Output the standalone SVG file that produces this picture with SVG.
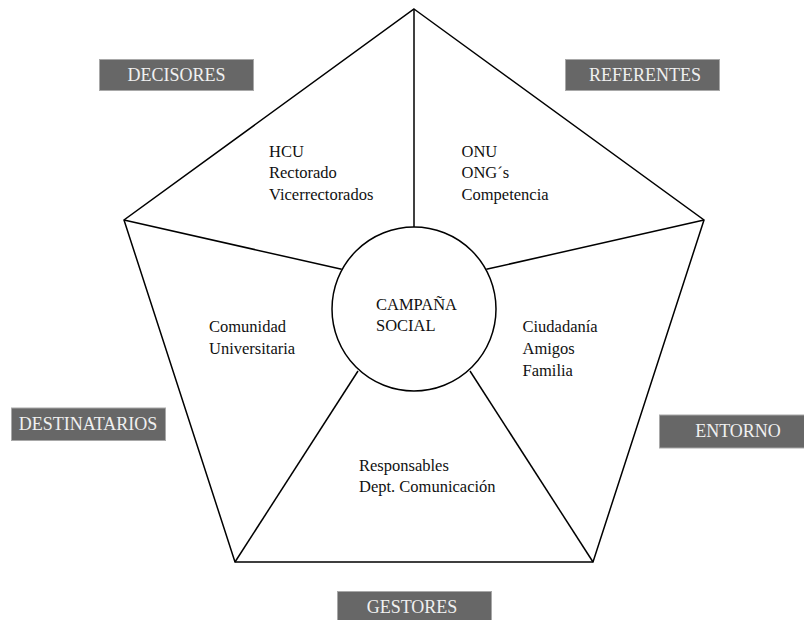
<svg xmlns="http://www.w3.org/2000/svg" width="804" height="620" viewBox="0 0 804 620">
<style>
.ln{fill:none;stroke:#000;stroke-width:1.5;stroke-linejoin:miter}
.t{font-family:"Liberation Serif","Times New Roman",serif;font-size:16.5px;fill:#111}
.box{fill:#676767;stroke:#a8a8a8;stroke-width:1}
.bt{font-family:"Liberation Serif","Times New Roman",serif;font-size:18px;fill:#f0f0f0;text-anchor:middle}
</style>
<rect width="804" height="620" fill="#fff"/>
<g id="connectors">
<polygon class="ln" points="414,9 704,220 593,562 235,562 124,220"/>
<line class="ln" x1="414" y1="9" x2="414" y2="227"/>
<line class="ln" x1="124" y1="220" x2="341.7" y2="269.3"/>
<line class="ln" x1="704" y1="220" x2="486.3" y2="269.3"/>
<line class="ln" x1="235" y1="562" x2="358" y2="371"/>
<line class="ln" x1="593" y1="562" x2="470" y2="371"/>
</g>
<g id="center">
<circle class="ln" cx="414" cy="309" r="82"/>
<text class="t" x="376" y="310">CAMPAÑA</text>
<text class="t" x="376" y="331">SOCIAL</text>
</g>
<g id="decisores-content">
<text class="t" x="269" y="157">HCU</text>
<text class="t" x="269" y="178">Rectorado</text>
<text class="t" x="269" y="200">Vicerrectorados</text>
</g>
<g id="referentes-content">
<text class="t" x="461.5" y="157">ONU</text>
<text class="t" x="461.5" y="178">ONG´s</text>
<text class="t" x="461.5" y="200">Competencia</text>
</g>
<g id="destinatarios-content">
<text class="t" x="209" y="332">Comunidad</text>
<text class="t" x="209" y="354">Universitaria</text>
</g>
<g id="entorno-content">
<text class="t" x="522.5" y="332">Ciudadanía</text>
<text class="t" x="522.5" y="354">Amigos</text>
<text class="t" x="522.5" y="376">Familia</text>
</g>
<g id="gestores-content">
<text class="t" x="359" y="470.5">Responsables</text>
<text class="t" x="359" y="492">Dept. Comunicación</text>
</g>
<g id="label-decisores">
<rect class="box" x="99.5" y="59.5" width="154" height="31"/>
<text class="bt" x="176.5" y="81">DECISORES</text>
</g>
<g id="label-referentes">
<rect class="box" x="565.5" y="59.5" width="154" height="31"/>
<text class="bt" x="645" y="81">REFERENTES</text>
</g>
<g id="label-destinatarios">
<rect class="box" x="11.5" y="408" width="154" height="32.5"/>
<text class="bt" x="88" y="430">DESTINATARIOS</text>
</g>
<g id="label-entorno">
<rect class="box" x="659.5" y="415" width="150" height="33"/>
<text class="bt" x="738" y="437">ENTORNO</text>
</g>
<g id="label-gestores">
<rect class="box" x="337.5" y="591.5" width="154" height="32"/>
<text class="bt" x="412" y="613">GESTORES</text>
</g>
</svg>
